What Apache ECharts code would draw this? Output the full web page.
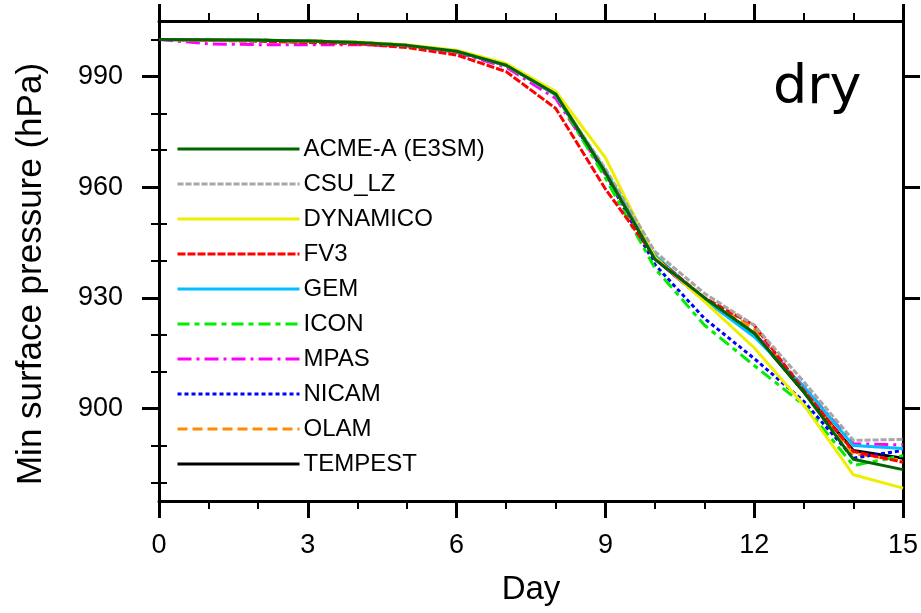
<!DOCTYPE html>
<html>
<head>
<meta charset="utf-8">
<script src="https://cdn.jsdelivr.net/npm/echarts@6/dist/echarts.min.js"></script>
<style>html,body{margin:0;padding:0;background:#fff;}#c{width:921px;height:613px;}</style>
</head>
<body>
<div id="c"></div>
<script>
const days = [0,1,2,3,4,5,6,7,8,9,10,11,12,13,14,15];
const xTicks = [0,3,6,9,12,15];
const yMajorTicks = [900,930,960,990];
const yMinorTicks = [880,890,910,920,940,950,970,980,1000];
const seriesNames = ['ACME-A (E3SM)','CSU_LZ','DYNAMICO','FV3','GEM','ICON','MPAS','NICAM','OLAM','TEMPEST'];
const acme     = [1000,999.9,999.8,999.6,999.2,998.4,996.8,993.0,985.2,964.0,940.5,930.0,920.5,904.5,886.3,883.5];
const csu      = [1000,999.9,999.8,999.6,999.2,998.4,996.8,993.0,985.0,965.0,942.5,931.2,922.6,907.3,891.4,891.7];
const dynamico = [1000,999.9,999.8,999.6,999.3,998.6,997.1,993.5,985.9,968.0,941.0,929.0,916.5,901.0,882.1,878.5];
const fv3      = [1000,999.8,999.5,999.2,998.8,997.8,995.8,991.3,981.3,959.5,941.0,930.0,922.6,905.0,888.4,885.5];
const gem      = [1000,999.9,999.8,999.6,999.2,998.4,996.8,993.0,985.0,964.5,941.5,929.5,919.5,906.0,890.0,889.2];
const icon     = [1000,999.9,999.8,999.6,999.2,998.4,996.8,993.0,985.0,962.5,938.0,922.6,911.7,901.0,884.6,887.3];
const mpas     = [1000,998.8,998.6,998.6,998.6,998.2,996.5,992.5,984.0,963.5,940.5,929.2,920.5,906.0,890.5,890.2];
const nicam    = [1000,999.9,999.8,999.6,999.2,998.4,996.8,993.0,985.0,963.5,939.0,924.4,913.6,902.0,886.6,888.7];
const olam     = [1000,999.9,999.8,999.6,999.2,998.4,996.8,993.0,985.2,964.0,941.0,929.8,921.5,905.0,887.8,886.0];
const tempest  = [1000,999.9,999.8,999.6,999.2,998.4,996.8,993.0,985.2,964.0,940.5,929.4,920.3,904.5,888.7,886.6];
const allValues = [acme,csu,dynamico,fv3,gem,icon,mpas,nicam,olam,tempest];

const styles = [
  {color:'#006400', type:'solid'},
  {color:'#a6a6a6', type:[6,2]},
  {color:'#eeee00', type:'solid'},
  {color:'#ff0000', type:[8,2]},
  {color:'#00bfff', type:'solid'},
  {color:'#00ee00', type:[12,5,5,5]},
  {color:'#ff00ff', type:[14,5,3,5]},
  {color:'#0000ff', type:[4,3]},
  {color:'#ff8c00', type:[10,5]},
  {color:'#000000', type:'solid'}
];
const FF = 'Liberation Sans, Arial, Helvetica, sans-serif';
const axLine = {show:true, onZero:false, lineStyle:{color:'#000', width:3}};

const series = seriesNames.map((n,i)=>({
  name:n, type:'line', xAxisIndex:0, yAxisIndex:0,
  data: days.map((d,j)=>[d, allValues[i][j]]),
  symbol:'none', showSymbol:false, smooth:false,
  lineStyle:{color:styles[i].color, type:styles[i].type, width:3},
  itemStyle:{color:styles[i].color},
  z: 10 - i
}));

const xBase = (pos, showLabel) => ({
  type:'value', min:0, max:15, interval:3, position:pos,
  axisLine:axLine,
  axisTick:{show:true, inside:false, length:17, lineStyle:{color:'#000', width:3}},
  minorTick:{show:true, splitNumber:3, length:8, lineStyle:{color:'#000', width:2}},
  splitLine:{show:false}, minorSplitLine:{show:false},
  axisLabel:{show:showLabel, fontSize:27, color:'#000', margin:31, fontFamily:FF,
    formatter:v=>xTicks.includes(v)?String(v):''}
});
const yBase = (pos, ticks, len, width, showLabel, showLine) => ({
  type:'value', min:875, max:1005, position:pos,
  axisLine: showLine ? axLine : {show:false},
  axisTick:{show:true, inside:false, length:len, customValues:ticks, lineStyle:{color:'#000', width:width}},
  splitLine:{show:false},
  axisLabel:{show:showLabel, customValues:yMajorTicks, fontSize:27, color:'#000', margin:36, fontFamily:FF}
});

const xBottom = xBase('bottom', true);
xBottom.name = 'Day';
xBottom.nameLocation = 'middle';
xBottom.nameGap = 72;
xBottom.nameTextStyle = {fontSize:33, color:'#000', fontFamily:FF};

const yLeft = yBase('left', yMajorTicks, 17, 3, true, true);
yLeft.name = 'Min surface pressure (hPa)';
yLeft.nameLocation = 'middle';
yLeft.nameGap = 110;
yLeft.nameTextStyle = {fontSize:35, color:'#000', fontFamily:FF, padding:[0,26,0,0]};

const option = {
  animation:false,
  backgroundColor:'#fff',
  grid:{left:159, right:17, top:21, bottom:112, containLabel:false},
  xAxis:[xBottom, xBase('top', false)],
  yAxis:[
    yLeft,
    yBase('left', yMinorTicks, 8, 2, false, false),
    yBase('right', yMajorTicks, 17, 3, false, true),
    yBase('right', yMinorTicks, 8, 2, false, false)
  ],
  legend:{
    show:true, orient:'vertical', left:176, top:137, padding:0,
    itemWidth:122, itemHeight:14, itemGap:11, selectedMode:false,
    data:seriesNames,
    itemStyle:{color:'transparent', borderWidth:0, opacity:0},
    lineStyle:{width:3},
    textStyle:{fontSize:24, color:'#000', fontFamily:FF, padding:[0,0,0,-1]}
  },
  graphic:[{
    type:'text', left:773, top:62,
    style:{text:'dry', fontSize:54, fontFamily:'DejaVu Sans, sans-serif', fill:'#000'}
  }],
  series:series
};
const chart = echarts.init(document.getElementById('c'), null, {renderer:'canvas'});
chart.setOption(option);
</script>
</body>
</html>
